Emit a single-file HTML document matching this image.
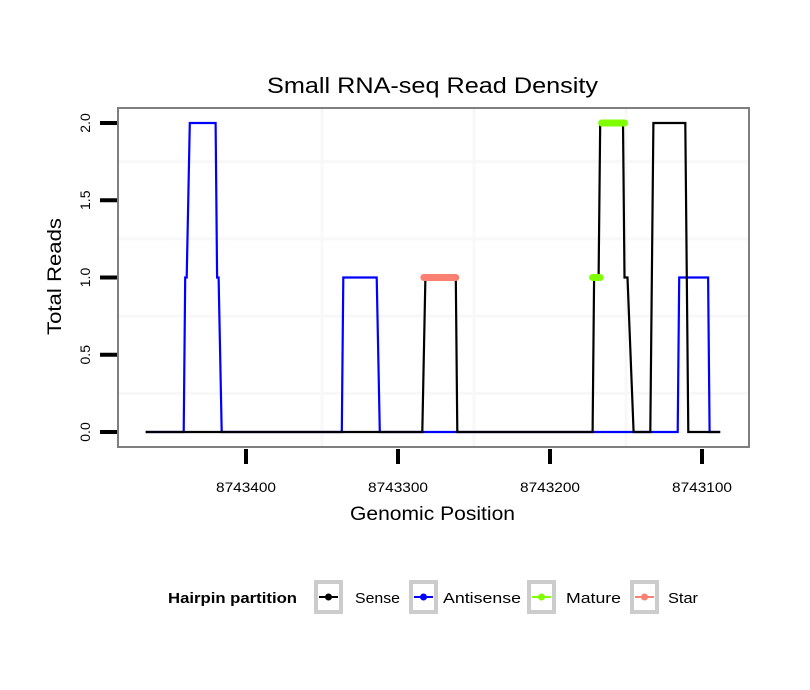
<!DOCTYPE html>
<html><head><meta charset="utf-8"><style>
body{margin:0;background:#fff;}
svg{display:block;font-family:"Liberation Sans",sans-serif;}
</style></head><body>
<svg id="chart" width="810" height="690" viewBox="0 0 810 690">
<rect width="810" height="690" fill="#fff"/>
<text x="267" y="93" font-size="22" textLength="331" lengthAdjust="spacingAndGlyphs">Small RNA-seq Read Density</text>
<g id="grid"></g>
<g id="series"></g>
<rect x="118" y="108" width="631" height="339" fill="none" stroke="#7f7f7f" stroke-width="2"/>
<g id="axes"></g>
<text x="350" y="520" font-size="19" textLength="165" lengthAdjust="spacingAndGlyphs">Genomic Position</text>
<text transform="translate(61,335) rotate(-90)" font-size="19" textLength="117" lengthAdjust="spacingAndGlyphs">Total Reads</text>
<g>
<text x="168" y="603" font-size="15" font-weight="bold" textLength="129" lengthAdjust="spacingAndGlyphs">Hairpin partition</text>
<g id="legend-items"></g>
</g>
</svg>
<script>
const xTicks=[8743400,8743300,8743200,8743100];
const yTicks=[0,0.5,1,1.5,2];
const yTickLabels=["0.0","0.5","1.0","1.5","2.0"];
const antisensePos=[8743466,8743441,8743440,8743439,8743437,8743420,8743419,8743418,8743416,8743337,8743336,8743314,8743312,8743116,8743115,8743096,8743095,8743088];
const antisenseVal=[0,0,1,1,2,2,1,1,0,0,1,1,0,0,1,1,0,0];
const sensePos=[8743466,8743284,8743282,8743262,8743261,8743172,8743171,8743168,8743167,8743152,8743151,8743149,8743145,8743134,8743132,8743111,8743109,8743088];
const senseVal=[0,0,1,1,0,0,1,1,2,2,1,1,0,0,2,2,0,0];
const matureStart=[8743172,8743166];
const matureEnd=[8743167,8743151];
const matureVal=[1,2];
const starStart=[8743283];
const starEnd=[8743262];
const starVal=[1];
const legendLabels=["Sense","Antisense","Mature","Star"];
const legendColors=["#000","#0000ff","#7fff00","#fa8072"];

const NS="http://www.w3.org/2000/svg";
function X(p){return 246+(8743400-p)*1.52;}
function Y(v){return 432-v*154.5;}
function mk(tag,attrs,parent){const e=document.createElementNS(NS,tag);for(const k in attrs)e.setAttribute(k,attrs[k]);parent.appendChild(e);return e;}
const grid=document.getElementById('grid'),series=document.getElementById('series'),axes=document.getElementById('axes');
mk('rect',{x:118,y:108,width:631,height:339,fill:'#fff'},grid);
for(let i=0;i<xTicks.length-1;i++){
  const m=(xTicks[i]+xTicks[i+1])/2;
  const gm=mk('line',{x1:X(m),x2:X(m),y1:108,y2:447,stroke:'#f8f8f8','stroke-width':3},grid);
  
  
}
for(let i=0;i<yTicks.length-1;i++){
  const m=(yTicks[i]+yTicks[i+1])/2;
  const gm=mk('line',{x1:118,x2:749,y1:Y(m),y2:Y(m),stroke:'#f8f8f8','stroke-width':3},grid);
  
  
}
function path(pos,val,color,name){
  let d='';for(let i=0;i<pos.length;i++)d+=(i?'L':'M')+X(pos[i]).toFixed(1)+','+Y(val[i]).toFixed(1);
  const p=mk('path',{d:d,fill:'none',stroke:color,'stroke-width':2.2,'stroke-linejoin':'miter'},series);
  
  
}
path(antisensePos,antisenseVal,'#0000ff','antisense-line');
path(sensePos,senseVal,'#000000','sense-line');
function segs(s,e,v,color,name){
  for(let i=0;i<s.length;i++){
    const l=mk('line',{x1:X(s[i]),x2:X(e[i]),y1:Y(v[i]),y2:Y(v[i]),stroke:color,'stroke-width':7,'stroke-linecap':'round'},series);
    
    
  }
}
segs(matureStart,matureEnd,matureVal,'#7fff00','mature-segment');
segs(starStart,starEnd,starVal,'#fa8072','star-segment');
for(let i=0;i<xTicks.length;i++){
  const x=X(xTicks[i]);
  const t=mk('line',{x1:x,x2:x,y1:449,y2:464,stroke:'#000','stroke-width':4},axes);
  
  
  const lb=mk('text',{x:x,y:492,'font-size':14,'text-anchor':'middle',textLength:60,lengthAdjust:'spacingAndGlyphs'},axes);
  lb.textContent=xTicks[i];
  
  
}
for(let i=0;i<yTicks.length;i++){
  const y=Y(yTicks[i]);
  const t=mk('line',{x1:100,x2:117,y1:y,y2:y,stroke:'#000','stroke-width':4},axes);
  
  
  const lb=mk('text',{transform:'translate(90,'+y+') rotate(-90)','font-size':14,'text-anchor':'middle'},axes);
  lb.textContent=yTickLabels[i];
  
  
}
const li=document.getElementById('legend-items');
const boxX=[314,409,527,630];
const textX=[355,443,566,668];
const textW=[45,78,55,30];
for(let i=0;i<legendLabels.length;i++){
  const g=mk('g',{},li);
  
  
  const bx=boxX[i];
  mk('rect',{x:bx+2,y:582,width:25,height:30,fill:'#fff',stroke:'#cccccc','stroke-width':4},g);
  mk('line',{x1:bx+5,x2:bx+24,y1:597,y2:597,stroke:legendColors[i],'stroke-width':2},g);
  mk('circle',{cx:bx+14.5,cy:597,r:3.5,fill:legendColors[i]},g);
  const t=mk('text',{x:textX[i],y:603,'font-size':15,textLength:textW[i],lengthAdjust:'spacingAndGlyphs'},g);
  t.textContent=legendLabels[i];
}
</script>
</body></html>
